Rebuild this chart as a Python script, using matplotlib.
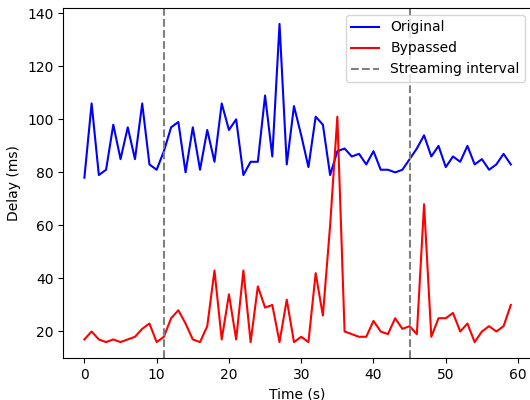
import numpy as np
import matplotlib
matplotlib.use('Agg')
import matplotlib.pyplot as plt

# tiempo en segundos
t = np.arange(60)

original = [78, 106, 79, 81, 98, 85, 97, 85, 106, 83,
            81, 88, 97, 99, 80, 97, 81, 96, 84, 106,
            96, 100, 79, 84, 84, 109, 86, 136, 83, 105,
            94, 82, 101, 98, 79, 88, 89, 86, 87, 83,
            88, 81, 81, 80, 81, 85, 89, 94, 86, 90,
            82, 86, 84, 90, 83, 85, 81, 83, 87, 83]

bypassed = [17, 20, 17, 16, 17, 16, 17, 18, 21, 23,
            16, 18, 25, 28, 23, 17, 16, 22, 43, 17,
            34, 17, 43, 16, 37, 29, 30, 16, 32, 16,
            18, 16, 42, 26, 60, 101, 20, 19, 18, 18,
            24, 20, 19, 25, 21, 22, 19, 68, 18, 25,
            25, 27, 20, 23, 16, 20, 22, 20, 22, 30]

intervalo = [11, 45]

fig, ax = plt.subplots(figsize=(5.3, 4), dpi=100)
ax.plot(t, original, color='blue', label='Original')
ax.plot(t, bypassed, color='red', label='Bypassed')
for i, x in enumerate(intervalo):
    ax.axvline(x, color='gray', linestyle='--',
               label='Streaming interval' if i == 0 else None)
ax.set_xlabel('Time (s)')
ax.set_ylabel('Delay (ms)')
ax.legend(loc='upper right')
# la figura original esta recortada por la derecha
fig.subplots_adjust(left=0.119, right=1.004, top=0.98, bottom=0.105)
fig.savefig('out.png')
